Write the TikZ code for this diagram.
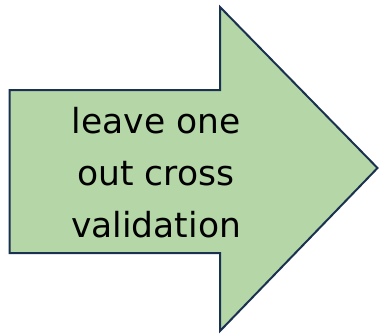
\documentclass[tikz,border=0pt]{standalone}
\usepackage{fontspec}
\setmainfont{DejaVu Sans}
\usepackage{tikz}
\definecolor{arrowfill}{HTML}{B5D7A8}
\definecolor{arrowline}{HTML}{1A3150}

\begin{document}
\begin{tikzpicture}[x=1pt,y=-1pt,
        bigarrow/.style={draw=arrowline,fill=arrowfill,line width=2pt,line join=miter},
        label/.style={align=center,font=\fontsize{34.5}{52}\selectfont,text=black}]
  \useasboundingbox (0,0) rectangle (379,335);

  % arrow outline
  \coordinate (bodyTL) at (9.5,90);
  \coordinate (bodyBL) at (9.5,253);
  \coordinate (headT) at (220,7);
  \coordinate (headB) at (220,331);
  \coordinate (tip) at (377.5,168);
  \draw[bigarrow] (bodyTL) -- (bodyTL -| headT) -- (headT) -- (tip)
        -- (headB) -- (bodyBL -| headB) -- (bodyBL) -- cycle;

  \node[label] (txt) at (156,172.5) {leave one\\out cross\\validation};
\end{tikzpicture}
\end{document}
